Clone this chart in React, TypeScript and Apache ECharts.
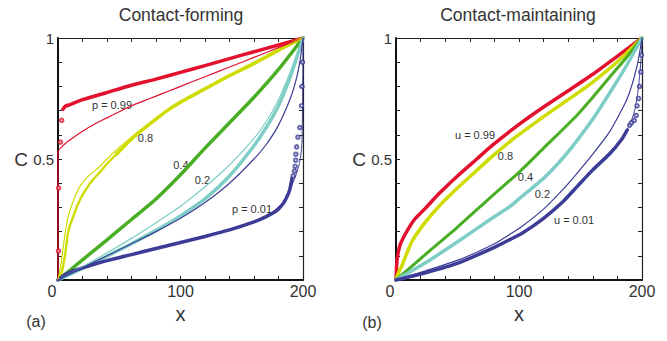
import React, { useEffect, useRef } from "react";
import * as echarts from "echarts";

type P = [number, number];

const xLabelValues = [0, 100, 200];
const yLabelValues = [0.5, 1];

// ---------- (a) Contact-forming ----------
const formRedSimDots: P[] = [[0.4, 0.12], [0.5, 0.38], [2, 0.57], [3, 0.66]];
const formRedSim: P[] = [[4, 0.705], [6, 0.718], [10, 0.725], [20, 0.745], [40, 0.775], [60, 0.805], [80, 0.83], [100, 0.858], [120, 0.886], [140, 0.915], [160, 0.943], [180, 0.971], [200, 1]];
const formRedTheory: P[] = [[0, 0], [0, 0.53], [5, 0.56], [10, 0.58], [20, 0.615], [30, 0.645], [40, 0.67], [50, 0.695], [60, 0.72], [70, 0.74], [80, 0.76], [90, 0.78], [100, 0.8], [120, 0.84], [140, 0.88], [160, 0.92], [180, 0.96], [200, 1]];

const formYellowSimLow: P[] = [[0, 0], [3, 0.03], [5, 0.08], [6.5, 0.13], [8, 0.19], [10, 0.23], [12.3, 0.26], [16, 0.31], [20.4, 0.355], [27, 0.405], [34, 0.445], [40, 0.48], [47.7, 0.52]];
const formYellowSimHigh: P[] = [[47.7, 0.52], [60, 0.583], [70, 0.625], [80, 0.665], [90, 0.703], [100, 0.735], [120, 0.79], [140, 0.845], [160, 0.895], [180, 0.95], [200, 1]];
const formYellowTheory: P[] = [[0, 0], [2, 0.05], [4, 0.124], [6, 0.2], [8.2, 0.26], [12, 0.32], [17.7, 0.385], [25, 0.43], [34, 0.468], [40, 0.5], [47.7, 0.537], [60, 0.59], [70, 0.63], [80, 0.668], [90, 0.702], [100, 0.73], [120, 0.785], [140, 0.84], [160, 0.89], [180, 0.945], [200, 1]];

const formGreen: P[] = [[0, 0], [20, 0.083], [40, 0.166], [60, 0.25], [80, 0.335], [100, 0.435], [120, 0.545], [140, 0.65], [160, 0.755], [180, 0.87], [200, 1]];

const formCyanSim: P[] = [[0, 0], [20, 0.048], [40, 0.098], [60, 0.15], [80, 0.205], [100, 0.265], [120, 0.335], [140, 0.43], [160, 0.555], [170, 0.63], [180, 0.72], [190, 0.845], [200, 1]];
const formCyanTheory: P[] = [[0, 0], [20, 0.055], [40, 0.112], [60, 0.172], [80, 0.237], [100, 0.305], [120, 0.385], [140, 0.475], [160, 0.585], [170, 0.655], [180, 0.745], [190, 0.865], [200, 1]];

const formBlueSim: P[] = [[0, 0], [5, 0.02], [10, 0.033], [20, 0.05], [40, 0.08], [60, 0.105], [80, 0.13], [100, 0.155], [120, 0.18], [140, 0.207], [160, 0.24], [170, 0.262], [178, 0.285], [183, 0.31], [186, 0.335], [189, 0.37], [191, 0.42]];
const formBlueSimDots: P[] = [[192, 0.43], [193, 0.45], [193.6, 0.47], [194.1, 0.495], [194.2, 0.52], [194.8, 0.55], [195.8, 0.59], [197.4, 0.63], [198.8, 0.72], [199.2, 0.8], [199.6, 0.9]];
const formBlueTheory: P[] = [[0, 0], [20, 0.05], [40, 0.1], [60, 0.15], [80, 0.2], [100, 0.255], [120, 0.32], [140, 0.4], [160, 0.5], [170, 0.56], [180, 0.64], [190, 0.755], [195, 0.84], [198, 0.92], [200, 1]];
const formBlueTheory2: P[] = [[0, 0], [20, 0.052], [60, 0.107], [100, 0.157], [140, 0.208], [160, 0.243], [175, 0.28], [185, 0.33], [190, 0.38], [194, 0.43], [197, 0.48], [199, 0.55], [199.6, 0.7], [200, 1]];

// ---------- (b) Contact-maintaining ----------
const maintRed: P[] = [[0, 0], [0.8, 0.08], [3, 0.14], [7.6, 0.19], [15, 0.25], [24, 0.297], [35, 0.357], [50, 0.43], [65, 0.497], [78, 0.555], [100, 0.643], [120, 0.715], [140, 0.782], [160, 0.85], [180, 0.925], [200, 1]];
const maintYellow: P[] = [[0, 0], [2, 0.03], [4.9, 0.06], [8, 0.1], [13, 0.16], [24, 0.24], [35, 0.305], [51, 0.385], [65, 0.45], [78, 0.51], [94, 0.578], [101, 0.605], [120, 0.675], [147, 0.77], [160, 0.818], [180, 0.902], [200, 1]];
const maintGreen: P[] = [[0, 0], [24, 0.106], [51, 0.223], [78, 0.347], [100, 0.445], [120, 0.545], [147, 0.68], [160, 0.755], [174, 0.84], [185, 0.905], [200, 1]];
const maintCyan: P[] = [[0, 0], [24, 0.071], [51, 0.161], [78, 0.255], [93, 0.305], [102, 0.344], [120, 0.42], [135, 0.5], [147, 0.575], [160, 0.665], [174, 0.775], [185, 0.865], [200, 1]];
const maintBlueSim: P[] = [[0, 0], [24, 0.03], [51, 0.071], [80, 0.135], [93, 0.168], [102.5, 0.193], [120, 0.255], [135, 0.32], [147, 0.385], [160, 0.455], [174, 0.523], [184, 0.585], [188, 0.62]];
const maintBlueSimDots: P[] = [[190, 0.64], [191.5, 0.65], [193.7, 0.66], [195.3, 0.68], [196, 0.72], [197.2, 0.75], [198, 0.8], [199, 0.86], [199.5, 0.93]];
const maintBlueTheory: P[] = [[0, 0], [24, 0.038], [51, 0.083], [80, 0.15], [93, 0.19], [102, 0.22], [120, 0.293], [135, 0.37], [147, 0.44], [160, 0.52], [174, 0.615], [188, 0.75], [196, 0.885], [200, 1]];
const maintBlueTheory2: P[] = [[0, 0], [24, 0.032], [51, 0.074], [80, 0.138], [102.5, 0.196], [120, 0.258], [135, 0.325], [147, 0.39], [160, 0.46], [174, 0.53], [184, 0.59], [190, 0.64], [194, 0.7], [196.5, 0.77], [198, 0.84], [199.3, 0.92], [200, 1]];

const RED = "#e3102e";
const YELLOW = "#cfdc00";
const GREEN = "#4aae24";
const CYAN = "#7ecec6";
const BLUE = "#3d3d97";
const FONT = "Liberation Sans, Arial, sans-serif";
const TXT = "#333";

function axesFor(g: number) {
  const xBottom = {
    type: "value", gridIndex: g, min: 0, max: 200, interval: 20, position: "bottom",
    axisLine: { show: true, onZero: false, lineStyle: { color: "#111", width: 2 } },
    axisTick: { show: true, inside: true, length: 4, lineStyle: { color: "#222", width: 1 } },
    axisLabel: {
      margin: 3, fontSize: 16, color: TXT, fontFamily: FONT,
      formatter: (v: number) => (xLabelValues.indexOf(Math.round(v)) >= 0 ? (Math.round(v) === 0 ? "{z|0}" : String(Math.round(v))) : ""),
      rich: { z: { fontSize: 16, color: TXT, fontFamily: FONT, padding: [0, 12, 0, 0] } },
    },
    splitLine: { show: false },
    name: "x", nameLocation: "middle", nameGap: 18,
    nameTextStyle: { fontSize: 20, color: TXT, fontFamily: FONT },
  };
  const xTop = {
    type: "value", gridIndex: g, min: 0, max: 200, interval: 20, position: "top",
    axisLine: { show: true, onZero: false, lineStyle: { color: "#222", width: 1.2 } },
    axisTick: { show: true, inside: true, length: 4, lineStyle: { color: "#222", width: 1 } },
    axisLabel: { show: false }, splitLine: { show: false },
  };
  const yLeft = {
    type: "value", gridIndex: g, min: 0, max: 1, interval: 0.1, position: "left",
    axisLine: { show: true, onZero: false, lineStyle: { color: "#111", width: 2 } },
    axisTick: { show: true, inside: true, length: 4, lineStyle: { color: "#222", width: 1 } },
    axisLabel: {
      margin: 4, fontSize: 15, color: TXT, fontFamily: FONT,
      formatter: (v: number) => {
        const hit = yLabelValues.find((t) => Math.abs(t - v) < 1e-6);
        return hit === undefined ? "" : String(hit);
      },
    },
    splitLine: { show: false },
  };
  const yRight = {
    type: "value", gridIndex: g, min: 0, max: 1, interval: 0.1, position: "right",
    axisLine: { show: true, onZero: false, lineStyle: { color: "#222", width: 1.2 } },
    axisTick: { show: true, inside: true, length: 4, lineStyle: { color: "#222", width: 1 } },
    axisLabel: { show: false }, splitLine: { show: false },
  };
  return { x: [xBottom, xTop], y: [yLeft, yRight] };
}

function line(data: P[], g: number, color: string, width: number, dash?: number[]) {
  return {
    type: "line", xAxisIndex: g * 2, yAxisIndex: g * 2, data,
    showSymbol: false, symbol: "none", smooth: 0.2,
    lineStyle: { color, width, type: dash ? dash : "solid", cap: "round", join: "round" },
    silent: true, z: width > 2 ? 2 : 3,
  };
}
function dots(data: P[], g: number, color: string) {
  return {
    type: "scatter", xAxisIndex: g * 2, yAxisIndex: g * 2, data,
    symbol: "emptyCircle", symbolSize: 3.5,
    itemStyle: { color, borderColor: color, borderWidth: 1 },
    silent: true, z: 3,
  };
}

function text(t: string, x: number, y: number, size: number) {
  return {
    type: "text", x, y,
    style: { text: t, fontSize: size, fontFamily: FONT, fill: TXT, align: "center", verticalAlign: "middle" },
  };
}

export default function App() {
  const ref = useRef<HTMLDivElement>(null);
  useEffect(() => {
    document.body.style.margin = "0";
    const chart = echarts.init(ref.current!, null, { renderer: "svg" });
    const a = axesFor(0);
    const b = axesFor(1);
    const option = {
      animation: false,
      backgroundColor: "#fff",
      grid: [
        { left: 58, top: 38, width: 245, height: 242 },
        { left: 396, top: 38, width: 246, height: 242 },
      ],
      xAxis: [a.x[0], a.x[1], b.x[0], b.x[1]],
      yAxis: [a.y[0], a.y[1], b.y[0], b.y[1]],
      series: [
        // (a)
        line(formRedSim, 0, RED, 3.5),
        dots(formRedSimDots, 0, RED),
        line(formRedTheory, 0, RED, 1.2),
        line(formYellowSimLow, 0, YELLOW, 2.5, [2, 1.5]),
        line(formYellowSimHigh, 0, YELLOW, 3.5),
        line(formYellowTheory, 0, YELLOW, 1.2),
        line(formGreen, 0, GREEN, 3.5),
        line(formCyanSim, 0, CYAN, 3.5),
        line(formCyanTheory, 0, CYAN, 1.2),
        line(formBlueSim, 0, BLUE, 3.5),
        dots(formBlueSimDots, 0, BLUE),
        line(formBlueTheory, 0, BLUE, 1.2),
        line(formBlueTheory2, 0, BLUE, 1),
        // (b)
        line(maintRed, 1, RED, 3.5),
        line(maintYellow, 1, YELLOW, 3.5),
        line(maintGreen, 1, GREEN, 3),
        line(maintCyan, 1, CYAN, 3.5),
        line(maintBlueSim, 1, BLUE, 3.5),
        dots(maintBlueSimDots, 1, BLUE),
        line(maintBlueTheory, 1, BLUE, 1.2),
        line(maintBlueTheory2, 1, BLUE, 1),
      ],
      graphic: [
        text("Contact-forming", 181, 15, 17.5),
        text("Contact-maintaining", 518, 15, 17.5),
        text("C", 21, 159, 19),
        text("C", 359, 159, 19),
        text("(a)", 36, 321, 16),
        text("(b)", 372, 322, 16),
        text("p = 0.99", 112, 105, 11),
        text("0.8", 145.5, 138, 11),
        text("0.4", 181, 165, 11),
        text("0.2", 202.5, 180, 11),
        text("p = 0.01", 252, 209, 11),
        text("u = 0.99", 475, 135, 11),
        text("0.8", 505.5, 156, 11),
        text("0.4", 525.5, 177, 11),
        text("0.2", 542.5, 194, 11),
        text("u = 0.01", 574, 220, 11),
      ],
    };
    chart.setOption(option as any);
    return () => chart.dispose();
  }, []);
  return <div ref={ref} style={{ width: 667, height: 341 }} />;
}
